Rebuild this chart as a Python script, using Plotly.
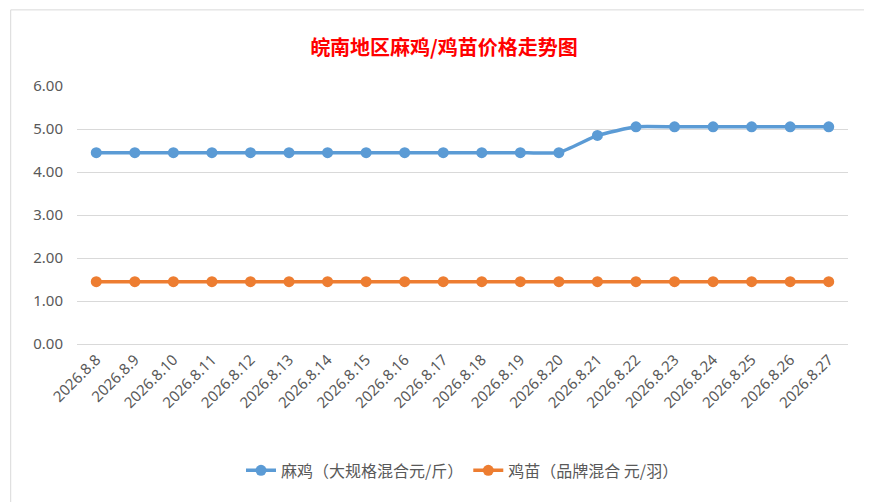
import plotly.graph_objects as go

dates = [f"2026.8.{d}" for d in range(8, 28)]
maji = [4.45] * 13 + [4.85] + [5.05] * 6
jimiao = [1.45] * 20

fig = go.Figure()
fig.add_trace(go.Scatter(
    x=dates, y=maji, mode='lines+markers', name='麻鸡（大规格混合元/斤）',
    line=dict(color='#5B9BD5', width=3.5, shape='spline', smoothing=0.4),
    marker=dict(size=11, color='#5B9BD5')
))
fig.add_trace(go.Scatter(
    x=dates, y=jimiao, mode='lines+markers', name='鸡苗（品牌混合 元/羽）',
    line=dict(color='#ED7D31', width=3.5),
    marker=dict(size=11, color='#ED7D31')
))
fig.update_layout(
    width=872, height=502,
    paper_bgcolor='white', plot_bgcolor='white',
    font=dict(family='Noto Sans CJK SC', color='#595959', size=15),
    title=dict(text='<b>皖南地区麻鸡/鸡苗价格走势图</b>', x=0.5, y=0.935,
               font=dict(color='#FF0000', size=20)),
    margin=dict(l=69, r=32, t=78, b=166),
    legend=dict(orientation='h', x=0.5, xanchor='center', y=-0.49, yanchor='middle',
                font=dict(size=16)),
    showlegend=True,
    shapes=[dict(type='rect', xref='paper', yref='paper', x0=-0.086, x1=1.04,
                 y0=-0.645, y1=1.295, line=dict(color='#D9D9D9', width=1))],
)
fig.update_xaxes(tickangle=-45, showgrid=False, showline=True, linecolor='#D9D9D9',
                 range=[-0.5, 19.5], automargin=False,
                 tickfont=dict(size=15, family='Noto Sans'))
fig.update_yaxes(range=[0, 6], dtick=1, tickformat='.2f', gridcolor='#D9D9D9',
                 zeroline=False, automargin=False, ticklen=10, ticks='outside',
                 tickcolor='white', tickfont=dict(size=15, family='Noto Sans'))
fig.write_html("out.html")
